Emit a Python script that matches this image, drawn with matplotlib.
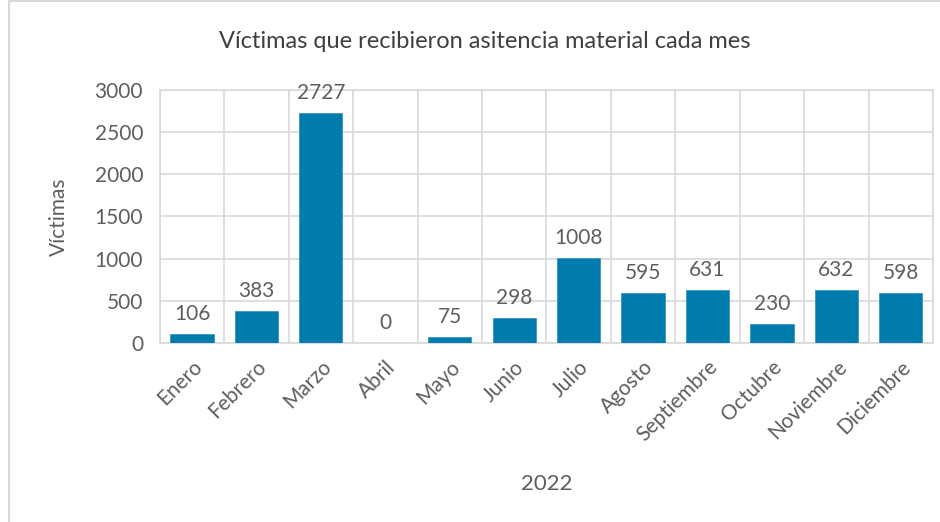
"""Víctimas que recibieron asistencia material, por mes (2022)."""

import matplotlib.pyplot as plt
import numpy as np
from matplotlib.patches import Rectangle

plt.rcParams.update({"font.family": ["Lato", "DejaVu Sans"]})

meses = ["Enero", "Febrero", "Marzo", "Abril", "Mayo", "Junio", "Julio",
         "Agosto", "Septiembre", "Octubre", "Noviembre", "Diciembre"]
victimas = [106, 383, 2727, 0, 75, 298, 1008, 595, 631, 230, 632, 598]
y_ticks = [0, 500, 1000, 1500, 2000, 2500, 3000]

text_color = "#5E5E5E"
grid_color = "#D9D9D9"
bar_color = "#007BAE"

fig = plt.figure(figsize=(9.4, 5.22), dpi=100)
ax = fig.add_axes([0.170, 0.343, 0.8226, 0.4846])

# outer chart frame
fig.patches.append(Rectangle((9 / 940, -0.01), 1.0, 1.008, transform=fig.transFigure,
                             fill=False, edgecolor=grid_color, linewidth=1.5))

x = np.arange(len(meses))
bars = ax.bar(x, victimas, 0.67, color=bar_color, edgecolor="#3A95C0",
              linewidth=0.6, zorder=3)
ax.bar_label(bars, labels=[str(v) for v in victimas], padding=7,
             fontsize=15, color=text_color)

ax.set_xlim(-0.5, len(meses) - 0.5)
ax.set_ylim(0, 3000)
ax.set_yticks(y_ticks)
ax.set_xticks(x)
ax.set_xticklabels(meses, rotation=45, ha="right", rotation_mode="anchor")
ax.set_xticks(np.arange(-0.5, len(meses), 1.0), minor=True)
ax.tick_params(which="both", length=0, colors=text_color, labelsize=15)
ax.tick_params(axis="x", pad=10)
ax.tick_params(axis="y", pad=12)

ax.grid(axis="y", color=grid_color, linewidth=1.2, zorder=0)
ax.grid(axis="x", which="minor", color=grid_color, linewidth=1.2, zorder=0)
for s in ax.spines.values():
    s.set_color(grid_color)
    s.set_linewidth(1.2)

ax.set_title("Víctimas que recibieron asitencia material cada mes",
             fontsize=17, color="#404040", pad=30, x=0.42)
ax.set_ylabel("Víctimas", fontsize=15, color=text_color)
ax.yaxis.set_label_coords(-0.117, 0.5)
ax.set_xlabel("2022", fontsize=16, color=text_color)
ax.xaxis.set_label_coords(0.5, -0.52)

fig.savefig("out.png", dpi=100)
